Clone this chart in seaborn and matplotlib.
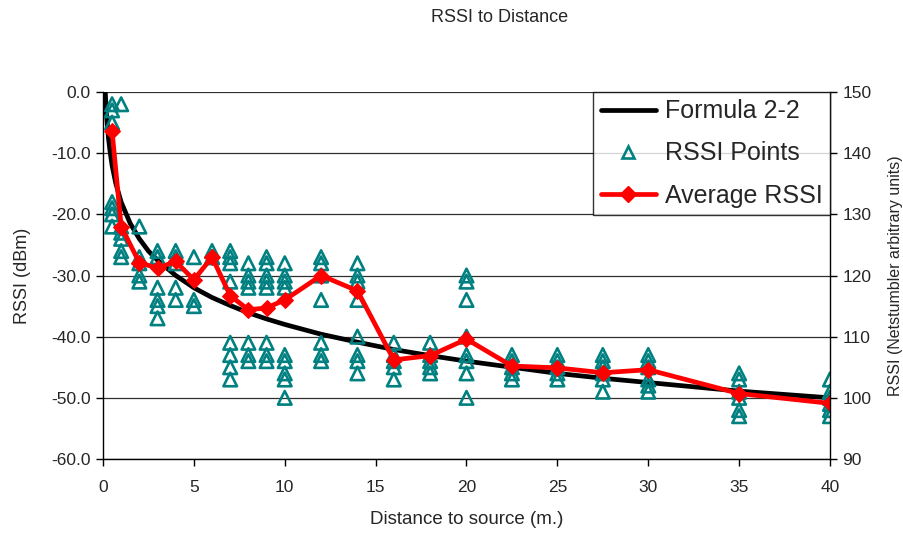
import numpy as np
import pandas as pd
import matplotlib
matplotlib.use("Agg")
import matplotlib.pyplot as plt
from matplotlib.lines import Line2D
import seaborn as sns

# ---- data ----
formula_dist = [0.126, 0.15, 0.2, 0.3, 0.4, 0.5, 0.7, 1, 1.5, 2, 2.5, 3, 4, 5, 6, 7, 8, 9, 10,
                12, 14, 16, 18, 20, 22.5, 25, 27.5, 30, 35, 40]
formula_rssi = [0.0, -1.5, -4.0, -7.5, -10.0, -12.0, -14.9, -18.0, -21.5, -24.0, -26.0, -27.5,
                -30.0, -32.0, -33.6, -34.9, -36.1, -37.1, -38.0, -39.6, -40.9, -42.1, -43.1,
                -44.0, -45.0, -46.0, -46.8, -47.5, -48.9, -50.0]

avg_dist = [0.5, 1, 2, 3, 4, 5, 6, 7, 8, 9, 10, 12, 14, 16, 18, 20, 22.5, 25, 27.5, 30, 35, 40]
avg_rssi = [-6.4, -22.0, -27.9, -28.8, -27.7, -30.7, -27.0, -33.3, -35.6, -35.3, -34.0, -30.0,
            -32.5, -43.8, -43.1, -40.4, -44.8, -45.1, -45.9, -45.4, -49.3, -50.9]

pts_d05 = [-2, -3, -5, -18, -19, -20, -22]
pts_d1 = [-2, -22, -23, -24, -26, -27]
pts_d2 = [-22, -27, -28, -30, -31]
pts_d3 = [-26, -27, -32, -34, -35, -37]
pts_d4 = [-26, -27, -28, -32, -34]
pts_d5 = [-27, -34, -35]
pts_d6 = [-26, -27, -27]
pts_d7 = [-26, -27, -28, -31, -41, -43, -45, -47]
pts_d8 = [-28, -30, -31, -32, -41, -43, -44]
pts_d9 = [-27, -28, -30, -31, -32, -41, -43, -44]
pts_d10 = [-28, -30, -31, -32, -43, -44, -46, -47, -50]
pts_d12 = [-27, -28, -30, -34, -41, -43, -44]
pts_d14 = [-28, -30, -31, -34, -40, -43, -44, -46]
pts_d16 = [-41, -43, -44, -45, -47]
pts_d18 = [-41, -43, -44, -45, -46]
pts_d20 = [-30, -31, -34, -40, -43, -44, -46, -50]
pts_d22_5 = [-43, -44, -45, -46, -47]
pts_d25 = [-43, -44, -45, -46, -47]
pts_d27_5 = [-43, -44, -45, -46, -47, -49]
pts_d30 = [-43, -44, -45, -47, -48, -49]
pts_d35 = [-46, -47, -49, -50, -52, -53]
pts_d40 = [-47, -49, -50, -51, -52, -53]

point_groups = {0.5: pts_d05, 1: pts_d1, 2: pts_d2, 3: pts_d3, 4: pts_d4, 5: pts_d5, 6: pts_d6,
                7: pts_d7, 8: pts_d8, 9: pts_d9, 10: pts_d10, 12: pts_d12, 14: pts_d14,
                16: pts_d16, 18: pts_d18, 20: pts_d20, 22.5: pts_d22_5, 25: pts_d25,
                27.5: pts_d27_5, 30: pts_d30, 35: pts_d35, 40: pts_d40}

x_ticks = [0, 5, 10, 15, 20, 25, 30, 35, 40]
y_ticks = [0, -10, -20, -30, -40, -50, -60]
y2_ticks = [90, 100, 110, 120, 130, 140, 150]

# ---- build frames ----
df_formula = pd.DataFrame({"d": formula_dist, "rssi": formula_rssi})
df_avg = pd.DataFrame({"d": avg_dist, "rssi": avg_rssi})
rows = [(d, v) for d, vals in point_groups.items() for v in vals]
df_pts = pd.DataFrame(rows, columns=["d", "rssi"])

sns.set_style("white")
plt.rcParams["font.family"] = ["Liberation Sans", "DejaVu Sans"]

fig = plt.figure(figsize=(9.04, 5.33), dpi=100)
ax = fig.add_axes([103 / 904, 1 - 459 / 533, 727 / 904, 367 / 533])

teal = "#008080"
red = "#FF0000"

sns.lineplot(data=df_formula, x="d", y="rssi", ax=ax, color="black", linewidth=3.4,
             sort=False, estimator=None, zorder=2, legend=False)
sns.scatterplot(data=df_pts, x="d", y="rssi", ax=ax, marker="^", s=95,
                facecolor="none", edgecolor=teal, linewidth=1.9, zorder=3, legend=False)
sns.lineplot(data=df_avg, x="d", y="rssi", ax=ax, color=red, linewidth=3.4,
             marker="D", markersize=8.5, markeredgecolor=red, sort=False, estimator=None,
             zorder=4, legend=False)

ax.set_xlim(0, 40)
ax.set_ylim(-60, 0)
ax.set_xticks(x_ticks)
ax.set_xticklabels([str(t) for t in x_ticks])
ax.set_yticks(y_ticks)
ax.set_yticklabels([f"{t:.1f}" for t in y_ticks])
ax.yaxis.grid(True, color="#303030", linewidth=0.9)
ax.xaxis.grid(False)
ax.set_axisbelow(True)
for s in ["left", "bottom"]:
    ax.spines[s].set_color("black")
    ax.spines[s].set_linewidth(1.0)
ax.spines["top"].set_visible(False)
ax.spines["right"].set_visible(False)
ax.tick_params(axis="both", direction="out", length=5, width=1, color="black",
               labelsize=12.5, bottom=True, left=True, pad=4)
ax.tick_params(axis="x", pad=10)
ax.set_xlabel("Distance to source (m.)", fontsize=13.5, labelpad=12)
ax.set_ylabel("RSSI (dBm)", fontsize=13, labelpad=14)

ax2 = ax.twinx()
ax2.set_ylim(90, 150)
ax2.set_yticks(y2_ticks)
ax2.set_yticklabels([str(t) for t in y2_ticks])
for s in ["left", "bottom", "top"]:
    ax2.spines[s].set_visible(False)
ax2.spines["right"].set_color("black")
ax2.spines["right"].set_linewidth(1.0)
ax2.tick_params(axis="y", direction="out", length=5, width=1, color="black",
                labelsize=12.5, right=True, pad=4)
ax2.set_ylabel("RSSI (Netstumbler arbitrary units)", fontsize=11.5, labelpad=12)
ax2.grid(False)

handles = [
    Line2D([], [], color="black", linewidth=3.4),
    Line2D([], [], linestyle="none", marker="^", markersize=9, markerfacecolor="none",
           markeredgecolor=teal, markeredgewidth=1.9),
    Line2D([], [], color=red, linewidth=3.4, marker="D", markersize=8.5, markeredgecolor=red),
]
leg = ax2.legend(handles, ["Formula 2-2", "RSSI Points", "Average RSSI"], loc="upper right",
                 bbox_to_anchor=(1.0, 1.0), borderaxespad=0, fontsize=18, frameon=True,
                 fancybox=False, edgecolor="black", handlelength=2.2, handletextpad=0.35,
                 labelspacing=0.72, borderpad=0.3)
leg.get_frame().set_linewidth(1.0)
leg.set_zorder(10)

fig.text(0.553, 1 - 18 / 533, "RSSI to Distance", ha="center", va="center", fontsize=13)

fig.savefig("out.png", dpi=100)
